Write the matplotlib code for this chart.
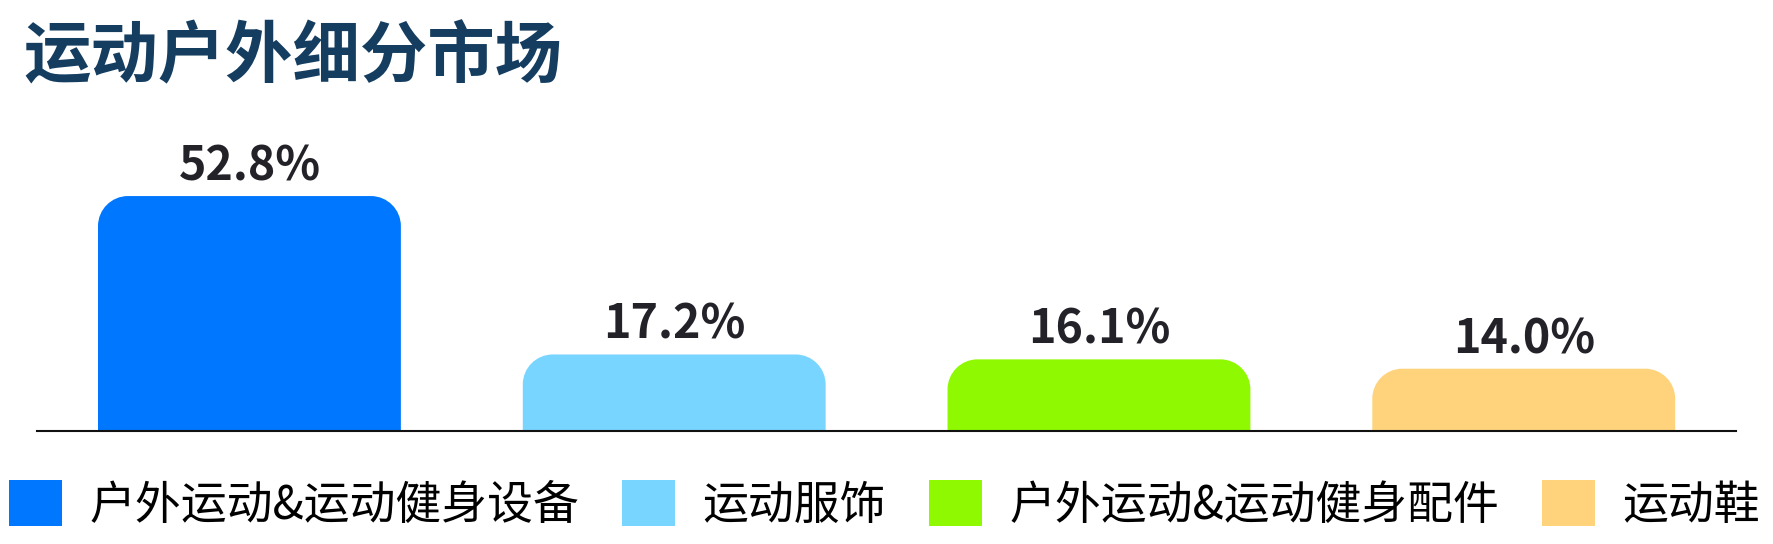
import matplotlib
matplotlib.use("Agg")
import matplotlib.pyplot as plt
from matplotlib.path import Path
from matplotlib.patches import PathPatch, Patch

plt.rcParams['font.family'] = ['Noto Sans CJK SC', 'DejaVu Sans']

# 数据
categories = ['户外运动&运动健身设备', '运动服饰', '户外运动&运动健身配件', '运动鞋']
shares = [52.8, 17.2, 16.1, 14.0]
labels = ['52.8%', '17.2%', '16.1%', '14.0%']
colors = ['#0077FF', '#77D5FF', '#8EF900', '#FED37B']
title = '运动户外细分市场'

fig = plt.figure(figsize=(17.73, 5.44), dpi=100)
ax = fig.add_axes([0.0209, 0.2077, 0.9583, 0.4908])
ax.set_xlim(-0.5, 3.5)
ax.set_ylim(0, 60)

bar_w = 0.713
# 圆角半径 (像素 -> 数据单位)
px_x = 425.0
px_y = 4.45
r_px = 30
rx = r_px / px_x
ry = r_px / px_y
k = 0.5523


def top_rounded(x0, w, h):
    x1 = x0 + w
    ryy = min(ry, h)
    verts = [
        (x0, 0), (x0, h - ryy),
        (x0, h - ryy + k * ryy), (x0 + rx - k * rx, h), (x0 + rx, h),
        (x1 - rx, h),
        (x1 - rx + k * rx, h), (x1, h - ryy + k * ryy), (x1, h - ryy),
        (x1, 0), (x0, 0),
    ]
    codes = [Path.MOVETO, Path.LINETO,
             Path.CURVE4, Path.CURVE4, Path.CURVE4,
             Path.LINETO,
             Path.CURVE4, Path.CURVE4, Path.CURVE4,
             Path.LINETO, Path.CLOSEPOLY]
    return Path(verts, codes)


for i, (v, c, lab) in enumerate(zip(shares, colors, labels)):
    p = PathPatch(top_rounded(i - bar_w / 2, bar_w, v), facecolor=c,
                  edgecolor='none')
    ax.add_patch(p)
    ax.annotate(lab, (i, v), xytext=(0, 4), textcoords='offset points',
                ha='center', va='bottom', fontsize=33.5, fontweight='bold',
                color='#222228')

for s in ['top', 'left', 'right']:
    ax.spines[s].set_visible(False)
ax.spines['bottom'].set_linewidth(1.5)
ax.spines['bottom'].set_color('#111111')
ax.set_xticks([])
ax.set_yticks([])

fig.text(0.013, 0.893, title, fontsize=48.5, fontweight='bold',
         color='#143D60', ha='left', va='center')

handles = [Patch(facecolor=c, edgecolor='none') for c in colors]
fig.legend(handles, categories, loc='center left',
           bbox_to_anchor=(0.005, 0.072), ncol=4, frameon=False,
           fontsize=33, handlelength=1.16, handleheight=1.16,
           handletextpad=0.59, columnspacing=0.94,
           borderpad=0, borderaxespad=0)

fig.savefig('out.png', dpi=100)
